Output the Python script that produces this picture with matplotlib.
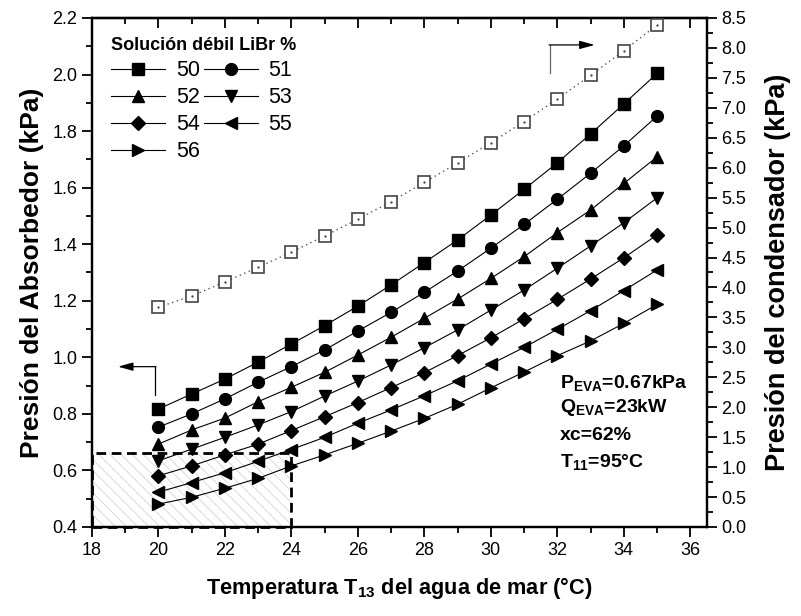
import matplotlib.pyplot as plt
from matplotlib.patches import Rectangle
from matplotlib.ticker import MultipleLocator

plt.rcParams['font.family'] = ['Liberation Sans', 'DejaVu Sans']
plt.rcParams['mathtext.fontset'] = 'custom'
plt.rcParams['mathtext.rm'] = 'Liberation Sans'
plt.rcParams['mathtext.bf'] = 'Liberation Sans:bold'
plt.rcParams['mathtext.it'] = 'Liberation Sans:italic'
plt.rcParams['hatch.linewidth'] = 0.5

# ------------------------
# Data
# ------------------------
temps = [20, 21, 22, 23, 24, 25, 26, 27, 28, 29, 30, 31, 32, 33, 34, 35]

p50 = [0.817, 0.870, 0.923, 0.983, 1.047, 1.112, 1.181, 1.256,
       1.335, 1.415, 1.503, 1.594, 1.688, 1.790, 1.896, 2.004]
p51 = [0.753, 0.800, 0.853, 0.912, 0.967, 1.026, 1.093, 1.159,
       1.230, 1.305, 1.386, 1.470, 1.559, 1.651, 1.748, 1.853]
p52 = [0.693, 0.743, 0.785, 0.843, 0.894, 0.947, 1.008, 1.071,
       1.138, 1.206, 1.279, 1.356, 1.441, 1.521, 1.615, 1.709]
p53 = [0.634, 0.675, 0.717, 0.761, 0.808, 0.863, 0.916, 0.973,
       1.034, 1.097, 1.167, 1.238, 1.315, 1.394, 1.476, 1.564]
p54 = [0.581, 0.616, 0.655, 0.693, 0.741, 0.790, 0.840, 0.893,
       0.946, 1.006, 1.069, 1.136, 1.205, 1.277, 1.352, 1.433]
p55 = [0.523, 0.557, 0.592, 0.632, 0.674, 0.717, 0.767, 0.814,
       0.864, 0.917, 0.976, 1.035, 1.099, 1.165, 1.236, 1.309]
p56 = [0.481, 0.505, 0.537, 0.572, 0.616, 0.655, 0.696, 0.739,
       0.784, 0.834, 0.892, 0.948, 1.006, 1.058, 1.120, 1.187]

# condenser pressure (right axis)
p_cond = [3.669, 3.858, 4.091, 4.337, 4.588, 4.860, 5.139, 5.433,
          5.753, 6.079, 6.418, 6.769, 7.148, 7.543, 7.954, 8.383]

concentrations = ["50", "51", "52", "53", "54", "55", "56"]
series = [p50, p51, p52, p53, p54, p55, p56]
markers = ["s", "o", "^", "v", "D", "<", ">"]
marker_sizes = [8, 8.5, 9, 9, 7.5, 9, 9]

# ------------------------
# Figure
# ------------------------
fig = plt.figure(figsize=(8.01, 6.16), dpi=100)
ax = fig.add_axes([0.1146, 0.1445, 0.768, 0.8263])
ax2 = ax.twinx()

handles = []
for lab, vals, m, ms in zip(concentrations, series, markers, marker_sizes):
    h, = ax.plot(temps, vals, color="black", lw=0.8, marker=m, ms=ms,
                 mfc="black", mec="black", label=lab, zorder=3)
    handles.append(h)

ax2.plot(temps, p_cond, color="#555555", lw=1.0, ls=(0, (1, 2.5)),
         marker="s", ms=9, mfc="white", mec="#444444", mew=1.2, zorder=3)
ax2.plot(temps, p_cond, ls="none", marker=".", ms=1.2, color="#333333", zorder=4)

# hatched region
ax.add_patch(Rectangle((18, 0.4), 6, 0.262, facecolor="none", edgecolor="#cccccc",
                       hatch="\\\\\\", lw=0, zorder=1))
ax.add_patch(Rectangle((18, 0.4), 6, 0.262, facecolor="none", edgecolor="black",
                       lw=2, ls=(0, (3.5, 2)), zorder=2, clip_on=False))

# arrows
ax.plot([19.91, 19.91], [0.867, 0.967], color="black", lw=0.9)
ax.annotate("", xy=(18.79, 0.967), xytext=(19.93, 0.967),
            arrowprops=dict(arrowstyle="-|>,head_length=0.9,head_width=0.25",
                            color="black", lw=0.9, shrinkA=0, shrinkB=0))
ax2.plot([31.77, 31.77], [7.58, 8.05], color="#666666", lw=0.9)
ax2.annotate("", xy=(33.12, 8.05), xytext=(31.75, 8.05),
             arrowprops=dict(arrowstyle="-|>,head_length=0.9,head_width=0.25",
                             color="black", lw=0.9, shrinkA=0, shrinkB=0))

# axes limits and ticks
ax.set_xlim(18, 36.5)
ax.set_ylim(0.4, 2.2)
ax2.set_ylim(0.0, 8.5)

ax.xaxis.set_major_locator(MultipleLocator(2))
ax.xaxis.set_minor_locator(MultipleLocator(1))
ax.yaxis.set_major_locator(MultipleLocator(0.2))
ax.yaxis.set_minor_locator(MultipleLocator(0.1))
ax2.yaxis.set_major_locator(MultipleLocator(0.5))
ax2.yaxis.set_minor_locator(MultipleLocator(0.25))

ax.tick_params(axis="x", which="both", direction="out", top=False, labelsize=13, width=1.3)
ax.tick_params(axis="x", which="major", length=7)
ax.tick_params(axis="x", which="minor", length=4)
ax.tick_params(axis="y", which="both", direction="out", labelsize=13, width=1.3)
ax.tick_params(axis="y", which="major", length=7)
ax.tick_params(axis="y", which="minor", length=4)
ax2.tick_params(axis="y", which="both", direction="out", labelsize=13, width=1.3)
ax2.tick_params(axis="y", which="major", length=7)
ax2.tick_params(axis="y", which="minor", length=4)

# top ticks pointing inward, no labels
secx = ax.secondary_xaxis("top")
secx.xaxis.set_major_locator(MultipleLocator(2))
secx.xaxis.set_minor_locator(MultipleLocator(1))
secx.tick_params(which="both", direction="in", labeltop=False, width=1.3)
secx.tick_params(which="major", length=7)
secx.tick_params(which="minor", length=4)

for sp in list(ax.spines.values()) + list(ax2.spines.values()):
    sp.set_linewidth(1.6)
secx.spines["top"].set_linewidth(1.6)

ax.set_xlabel(r"Temperatura T$_{\mathbf{13}}$ del agua de mar (°C)", fontsize=15.7,
              fontweight="bold", labelpad=12)
ax.set_ylabel("Presión del Absorbedor (kPa)", fontsize=19, fontweight="bold", labelpad=6)
ax2.set_ylabel("Presión del condensador (kPa)", fontsize=19.5, fontweight="bold", labelpad=13)

# legend (row-wise order with two columns)
order = [0, 2, 4, 6, 1, 3, 5]
leg = ax.legend([handles[i] for i in order], [concentrations[i] for i in order],
                ncol=2, loc="upper left", bbox_to_anchor=(0.0, 1.0), frameon=False,
                fontsize=15.5, title="Solución débil LiBr %",
                title_fontproperties={"weight": "bold", "size": 13},
                handlelength=2.5, handletextpad=0.5, columnspacing=0.2,
                labelspacing=0.28, alignment="left")

# operating conditions
ax.text(0.761, 0.283, r"P$_{\mathbf{EVA}}$=0.67kPa", transform=ax.transAxes,
        fontsize=14, fontweight="bold", va="center", ha="left")
ax.text(0.761, 0.235, r"Q$_{\mathbf{EVA}}$=23kW", transform=ax.transAxes,
        fontsize=14, fontweight="bold", va="center", ha="left")
ax.text(0.761, 0.179, "xc=62%", transform=ax.transAxes,
        fontsize=14, fontweight="bold", va="center", ha="left")
ax.text(0.761, 0.128, r"T$_{\mathbf{11}}$=95°C", transform=ax.transAxes,
        fontsize=14, fontweight="bold", va="center", ha="left")

fig.savefig("out.png", dpi=100)
